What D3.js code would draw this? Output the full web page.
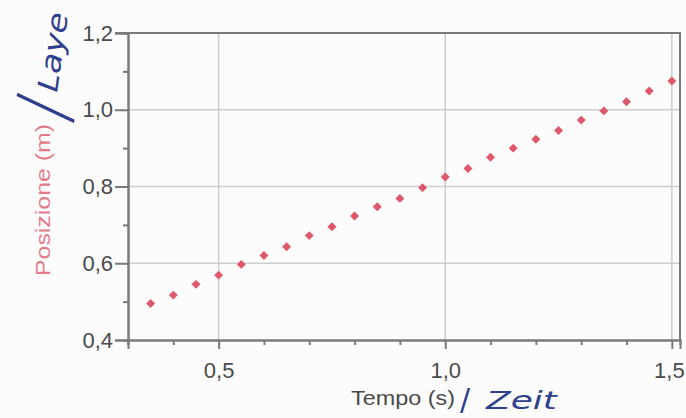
<!DOCTYPE html>
<html>
<head>
<meta charset="utf-8">
<script src="https://cdn.jsdelivr.net/npm/d3@7"></script>
<style>
  body { margin: 0; background: #fcfcfc; }
  svg { display: block; }
</style>
</head>
<body>
<div id="root"></div>
<script>
// Chart size
const width = 686;
const height = 418;

// Data
const tempo = [0.35, 0.40, 0.45, 0.50, 0.55, 0.60, 0.65, 0.70, 0.75, 0.80, 0.85, 0.90,
  0.95, 1.00, 1.05, 1.10, 1.15, 1.20, 1.25, 1.30, 1.35, 1.40, 1.45, 1.50];
const posizione = [0.495, 0.517, 0.545, 0.569, 0.597, 0.620, 0.643, 0.672, 0.695, 0.723, 0.747, 0.769,
  0.797, 0.825, 0.847, 0.876, 0.900, 0.923, 0.946, 0.973, 0.997, 1.021, 1.049, 1.075];

// Tick values
const xMajor = [0.5, 1.0, 1.5];
const xMinor = [0.3, 0.4, 0.6, 0.7, 0.8, 0.9, 1.1, 1.2, 1.3, 1.4];
const yMajor = [0.4, 0.6, 0.8, 1.0, 1.2];
const yMinor = [0.5, 0.7, 0.9, 1.1];
const xGrid = [0.5, 1.0, 1.5];
const yGrid = [0.6, 0.8, 1.0];

const points = tempo.map((t, i) => ({ t: t, p: posizione[i] }));

const commaFormat = d => d3.format(".1f")(d).replace(".", ",");

const svg = d3
  .select("#root")
  .append("svg")
  .attr("width", width)
  .attr("height", height);

// Scales
const xScale = d3.scaleLinear().domain([0.3, 1.518]).range([128, 680]);
const yScale = d3.scaleLinear().domain([0.4, 1.2]).range([340, 33]);

const axisColor = "#7a7a7a";
const labelColor = "#4a4a4a";
const inkColor = "#2e3f8c";

// Grid
svg
  .append("g")
  .selectAll("line")
  .data(xGrid)
  .enter()
  .append("line")
  .attr("x1", d => xScale(d))
  .attr("x2", d => xScale(d))
  .attr("y1", yScale(1.2))
  .attr("y2", yScale(0.4))
  .attr("stroke", "#cdcdcd")
  .attr("stroke-width", 1.5);

svg
  .append("g")
  .selectAll("line")
  .data(yGrid)
  .enter()
  .append("line")
  .attr("x1", xScale(0.3))
  .attr("x2", xScale(1.518))
  .attr("y1", d => yScale(d))
  .attr("y2", d => yScale(d))
  .attr("stroke", "#cdcdcd")
  .attr("stroke-width", 1.5);

// Frame (top and right)
svg
  .append("path")
  .attr("d", "M" + (xScale(0.3) - 13) + "," + yScale(1.2) + "H" + xScale(1.518) + "V" + yScale(0.4))
  .attr("fill", "none")
  .attr("stroke", axisColor)
  .attr("stroke-width", 2);

function styleAxis(g) {
  g.select(".domain").attr("stroke", axisColor).attr("stroke-width", 2);
  g.selectAll(".tick line").attr("stroke", axisColor).attr("stroke-width", 2);
  g.selectAll(".tick text")
    .attr("fill", labelColor)
    .style("font-family", "Liberation Sans, Arial, sans-serif")
    .style("font-size", "22px");
}

// X axis
const xAxisMinor = d3.axisBottom(xScale).tickValues(xMinor).tickSize(5).tickFormat("");
const xAxisMajor = d3.axisBottom(xScale).tickValues(xMajor).tickSize(9).tickPadding(13).tickFormat(commaFormat);

svg.append("g")
  .attr("transform", "translate(0," + yScale(0.4) + ")")
  .call(xAxisMinor)
  .call(styleAxis);

const xAxisG = svg.append("g")
  .attr("transform", "translate(0," + yScale(0.4) + ")")
  .call(xAxisMajor)
  .call(styleAxis);

// last label sits against the right edge
xAxisG.selectAll(".tick text").filter(d => d === 1.5).attr("dx", -3);

// Y axis
const yAxisMinor = d3.axisLeft(yScale).tickValues(yMinor).tickSize(5).tickFormat("");
const yAxisMajor = d3.axisLeft(yScale).tickValues(yMajor).tickSize(13).tickPadding(2).tickFormat(commaFormat);

svg.append("g")
  .attr("transform", "translate(" + xScale(0.3) + ",0)")
  .call(yAxisMinor)
  .call(styleAxis);

svg.append("g")
  .attr("transform", "translate(" + xScale(0.3) + ",0)")
  .call(yAxisMajor)
  .call(styleAxis);

// Data points (diamonds)
const diamond = d3.symbol().type(d3.symbolSquare).size(40);

svg
  .append("g")
  .selectAll("path")
  .data(points)
  .enter()
  .append("path")
  .attr("d", diamond)
  .attr("transform", d => "translate(" + xScale(d.t) + "," + yScale(d.p) + ") rotate(45)")
  .attr("fill", "#e0566a");

// Axis titles
svg
  .append("text")
  .attr("transform", "translate(50,200) rotate(-90)")
  .attr("text-anchor", "middle")
  .attr("fill", "#e47a88")
  .attr("textLength", 152)
  .attr("lengthAdjust", "spacingAndGlyphs")
  .style("font-family", "Liberation Sans, Arial, sans-serif")
  .style("font-size", "21px")
  .text("Posizione (m)");

svg
  .append("text")
  .attr("x", 403)
  .attr("y", 405)
  .attr("text-anchor", "middle")
  .attr("fill", labelColor)
  .attr("textLength", 104)
  .attr("lengthAdjust", "spacingAndGlyphs")
  .style("font-family", "Liberation Sans, Arial, sans-serif")
  .style("font-size", "21px")
  .text("Tempo (s)");

// Handwritten notes
svg
  .append("text")
  .attr("transform", "translate(67,121) rotate(-74) scale(1,1.9)")
  .attr("fill", inkColor)
  .style("font-family", "DejaVu Sans, sans-serif")
  .style("font-size", "40px")
  .text("/");

svg
  .append("text")
  .attr("transform", "translate(57,93) rotate(-82)")
  .attr("fill", inkColor)
  .attr("textLength", 80)
  .attr("lengthAdjust", "spacingAndGlyphs")
  .style("font-family", "DejaVu Sans, sans-serif")
  .style("font-style", "italic")
  .style("font-size", "28px")
  .text("Laye");

svg
  .append("text")
  .attr("x", 460)
  .attr("y", 410)
  .attr("fill", inkColor)
  .style("font-family", "DejaVu Sans, sans-serif")
  .style("font-size", "30px")
  .text("/");

svg
  .append("text")
  .attr("x", 486)
  .attr("y", 409)
  .attr("fill", inkColor)
  .attr("textLength", 71)
  .attr("lengthAdjust", "spacingAndGlyphs")
  .style("font-family", "DejaVu Sans, sans-serif")
  .style("font-style", "italic")
  .style("font-size", "24px")
  .text("Zeit");
</script>
</body>
</html>
